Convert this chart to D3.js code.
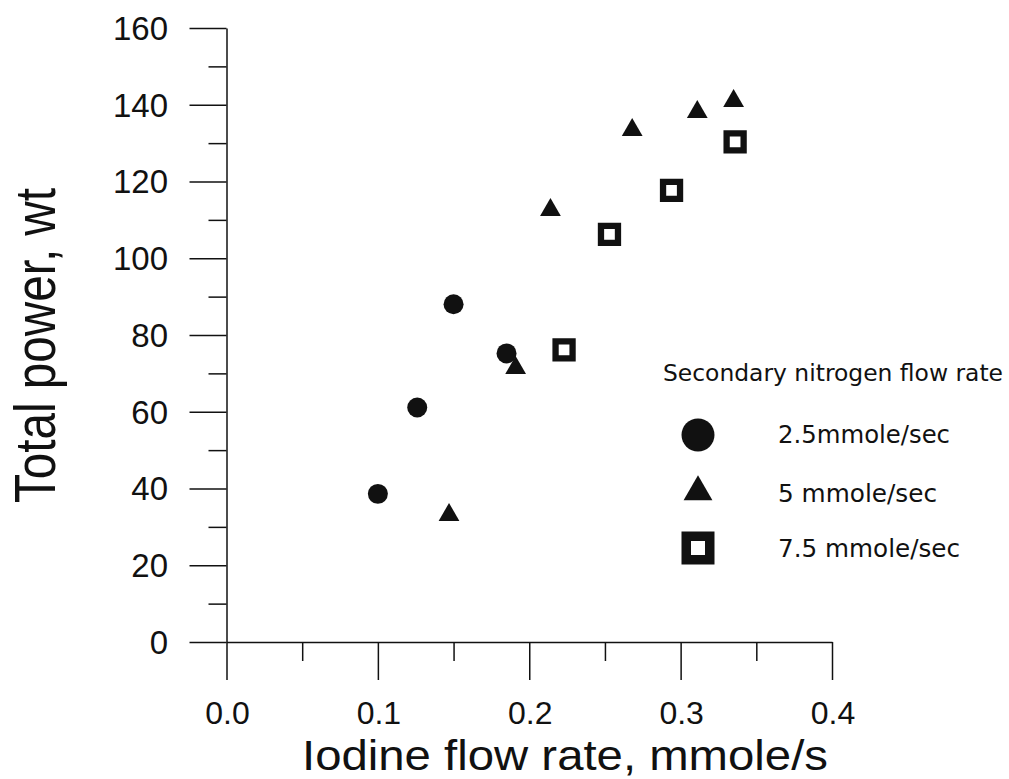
<!DOCTYPE html>
<html>
<head>
<meta charset="utf-8">
<script src="https://cdn.jsdelivr.net/npm/d3@7"></script>
<style>
  html, body { margin: 0; padding: 0; background: #fff; }
  svg { display: block; }
</style>
</head>
<body>
<svg id="chart" width="1009" height="779"></svg>
<script>
// ---- data ----
const xMajorTicks = [0.0, 0.1, 0.2, 0.3, 0.4];
const xMinorTicks = [0.05, 0.15, 0.25, 0.35];
const xTickLabels = ["0.0", "0.1", "0.2", "0.3", "0.4"];
const yMajorTicks = [0, 20, 40, 60, 80, 100, 120, 140, 160];
const yMinorTicks = [10, 30, 50, 70, 90, 110, 130, 150];
const yTickLabels = ["0", "20", "40", "60", "80", "100", "120", "140", "160"];

const seriesNames = ["2.5mmole/sec", "5 mmole/sec", "7.5 mmole/sec"];
const circleX = [0.100, 0.126, 0.150, 0.185];
const circleY = [38.6, 61.1, 88.0, 75.2];
const triangleX = [0.147, 0.191, 0.214, 0.268, 0.311, 0.335];
const triangleY = [33.1, 71.4, 112.6, 133.4, 138.1, 141.0];
const squareX = [0.223, 0.253, 0.294, 0.336];
const squareY = [76.1, 106.2, 117.7, 130.3];

const xTitle = "Iodine flow rate, mmole/s";
const yTitle = "Total power, wt";
const legendTitle = "Secondary nitrogen flow rate";

// ---- layout ----
const svg = d3.select("#chart");
const X0 = 226.5, X1 = 832, Y0 = 642, Y1 = 28;
const x = d3.scaleLinear().domain([0, 0.4]).range([X0, X1]);
const y = d3.scaleLinear().domain([0, 160]).range([Y0, Y1]);
const ink = "#111";

// Y axis (major + minor ticks)
const gy = svg.append("g").attr("transform", `translate(${X0},0)`);
gy.call(d3.axisLeft(y).tickValues(yMajorTicks).tickSize(37).tickSizeOuter(0).tickFormat(""));
const gy2 = svg.append("g").attr("transform", `translate(${X0},0)`);
gy2.call(d3.axisLeft(y).tickValues(yMinorTicks).tickSize(18).tickSizeOuter(0).tickFormat(""));
gy2.select(".domain").remove();

// X axis (ticks downward)
const gx = svg.append("g").attr("transform", `translate(0,${Y0})`);
gx.call(d3.axisBottom(x).tickValues(xMajorTicks).tickSize(38).tickSizeOuter(0).tickFormat(""));
const gx2 = svg.append("g").attr("transform", `translate(0,${Y0})`);
gx2.call(d3.axisBottom(x).tickValues(xMinorTicks).tickSize(19).tickSizeOuter(0).tickFormat(""));
gx2.select(".domain").remove();

svg.selectAll(".domain, .tick line").attr("stroke", ink).attr("stroke-width", 1.5);

// Tick labels
svg.append("g").selectAll("text").data(yMajorTicks).join("text")
  .attr("x", 168).attr("y", d => y(d)).attr("dy", "0.36em")
  .attr("text-anchor", "end")
  .attr("font-family", "Liberation Sans, Arial, sans-serif").attr("font-size", 33)
  .attr("fill", ink)
  .text((d, i) => yTickLabels[i]);

svg.append("g").selectAll("text").data(xMajorTicks).join("text")
  .attr("x", d => x(d) + 1).attr("y", 724)
  .attr("text-anchor", "middle")
  .attr("font-family", "Liberation Sans, Arial, sans-serif").attr("font-size", 32)
  .attr("fill", ink)
  .text((d, i) => xTickLabels[i]);

// Axis titles
svg.append("text")
  .attr("x", 302).attr("y", 770)
  .attr("textLength", 526).attr("lengthAdjust", "spacingAndGlyphs")
  .attr("font-family", "Liberation Sans, Arial, sans-serif").attr("font-size", 43)
  .attr("fill", ink).text(xTitle);

svg.append("text")
  .attr("transform", "translate(55,503) rotate(-90)")
  .attr("x", 0).attr("y", 0)
  .attr("textLength", 315).attr("lengthAdjust", "spacingAndGlyphs")
  .attr("font-family", "Liberation Sans, Arial, sans-serif").attr("font-size", 57)
  .attr("fill", ink).text(yTitle);

// Data marks
const triPts = triangleX.map((v, i) => [v, triangleY[i]]);
const cirPts = circleX.map((v, i) => [v, circleY[i]]);
const sqPts = squareX.map((v, i) => [v, squareY[i]]);

svg.append("g").selectAll("path").data(triPts).join("path")
  .attr("transform", d => `translate(${x(d[0])},${y(d[1])})`)
  .attr("d", d3.symbol(d3.symbolTriangle, 187)())
  .attr("fill", ink);

svg.append("g").selectAll("path").data(cirPts).join("path")
  .attr("transform", d => `translate(${x(d[0])},${y(d[1])})`)
  .attr("d", d3.symbol(d3.symbolCircle, 314)())
  .attr("fill", ink);

svg.append("g").selectAll("path").data(sqPts).join("path")
  .attr("transform", d => `translate(${x(d[0])},${y(d[1])})`)
  .attr("d", d3.symbol(d3.symbolSquare, 289)())
  .attr("fill", "#fff").attr("stroke", ink).attr("stroke-width", 6.3);

// Legend
const lg = svg.append("g");
lg.append("text")
  .attr("x", 663).attr("y", 381)
  .attr("textLength", 340).attr("lengthAdjust", "spacingAndGlyphs")
  .attr("font-family", "DejaVu Sans, Verdana, sans-serif").attr("font-size", 23)
  .attr("fill", ink).text(legendTitle);

const legendItems = [
  { name: seriesNames[0], sym: d3.symbolCircle, size: 855, fill: ink, stroke: "none", sw: 0, cy: 435, ty: 443, tl: 172 },
  { name: seriesNames[1], sym: d3.symbolTriangle, size: 360, fill: ink, stroke: "none", sw: 0, cy: 492, ty: 502, tl: 159 },
  { name: seriesNames[2], sym: d3.symbolSquare, size: 552, fill: "#fff", stroke: ink, sw: 9.5, cy: 548, ty: 557, tl: 182 }
];
lg.selectAll("path").data(legendItems).join("path")
  .attr("transform", d => `translate(698,${d.cy})`)
  .attr("d", d => d3.symbol(d.sym, d.size)())
  .attr("fill", d => d.fill).attr("stroke", d => d.stroke).attr("stroke-width", d => d.sw);
lg.selectAll("text.item").data(legendItems).join("text")
  .attr("class", "item")
  .attr("x", 778).attr("y", d => d.ty)
  .attr("textLength", d => d.tl).attr("lengthAdjust", "spacingAndGlyphs")
  .attr("font-family", "DejaVu Sans, Verdana, sans-serif").attr("font-size", 25)
  .attr("fill", ink).text(d => d.name);
</script>
</body>
</html>
